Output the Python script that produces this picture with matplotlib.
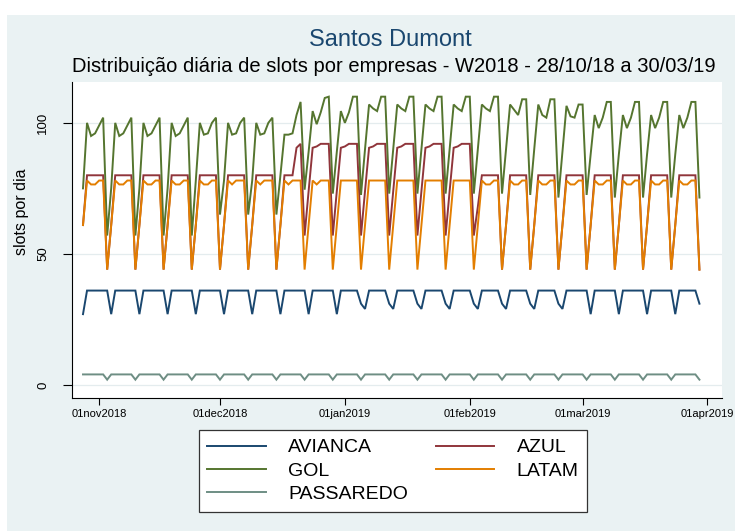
import matplotlib
matplotlib.use("Agg")
import matplotlib.pyplot as plt
import matplotlib.dates as mdates
from matplotlib.patches import Rectangle
import numpy as np
import pandas as pd

plt.rcParams['font.family'] = ['Liberation Sans', 'DejaVu Sans']

# daily slots, 28/10/18 (Sunday) to 30/03/19 (Saturday) = 22 weeks
# each weekly pattern below is Sunday..Saturday
start_date = "2018-10-28"
end_date = "2019-03-30"

# AVIANCA
av_plain = [27, 36, 36, 36, 36, 36, 36]
av_pre = [27, 36, 36, 36, 36, 36, 31]
av_kink = [29, 36, 36, 36, 36, 36, 31]
av_post = [29, 36, 36, 36, 36, 36, 36]
av_last = [27, 36, 36, 36, 36, 36, 31]
avianca_weeks = [av_plain] * 9 + [av_pre] + [av_kink] * 7 + [av_post] + [av_plain] * 3 + [av_last]

# AZUL
az_normal = [61, 80, 80, 80, 80, 80, 44]
az_up = [61, 80, 80, 80, 90.5, 92, 57]
az_high = [74, 90.5, 91, 92, 92, 92, 57]
az_down = [68, 80, 80, 80, 80, 80, 44]
azul_weeks = [az_normal] * 7 + [az_up] + [az_high] * 6 + [az_down] + [az_normal] * 7

# GOL
gol_a = [75, 100, 95, 96, 99, 102, 57]
gol_b = [78, 100, 95.5, 96, 100, 102, 65]
gol_c = [80, 95.5, 95.5, 96, 103, 108, 74.5]
gol_d = [89, 104.5, 99.5, 104, 109.5, 110, 73]
gol_e = [89, 104.5, 100, 104, 110, 110, 72.5]
gol_f = [90, 107, 105.5, 104.5, 110, 110, 73]
gol_g = [90, 107, 105, 103, 109, 109, 72.5]
gol_h = [90, 107, 103, 102, 109, 109, 71.5]
gol_i = [89, 106.5, 102.5, 102, 107, 107, 72.5]
gol_j = [88, 103, 98, 102, 108, 108, 71.5]
gol_weeks = ([gol_a] * 4 + [gol_b] * 3 + [gol_c] + [gol_d] + [gol_e] + [gol_f] * 5
             + [gol_g] + [gol_h] + [gol_i] + [gol_j] * 4)

# LATAM
lt_two_dip = [61, 78, 76.5, 76.5, 78, 78, 44]
lt_one_dip = [61, 78, 76.5, 78, 78, 78, 44]
lt_flat = [61, 78, 78, 78, 78, 78, 44]
latam_weeks = [lt_two_dip] * 5 + [lt_one_dip] * 4 + [lt_flat] * 5 + [lt_two_dip] * 8

# PASSAREDO
ps_week = [4, 4, 4, 4, 4, 4, 2]
passaredo_weeks = [ps_week] * 22

companies = ["AVIANCA", "AZUL", "GOL", "LATAM", "PASSAREDO"]
colors = ["#1A476F", "#90353B", "#55752F", "#E37E00", "#6E8E84"]

dates = pd.date_range(start_date, end_date, freq="D")
series = {
    "AVIANCA": np.concatenate(avianca_weeks),
    "AZUL": np.concatenate(azul_weeks),
    "GOL": np.concatenate(gol_weeks),
    "LATAM": np.concatenate(latam_weeks),
    "PASSAREDO": np.concatenate(passaredo_weeks),
}

W, H = 735, 531
fig = plt.figure(figsize=(W / 100, H / 100), dpi=100)
fig.patch.set_facecolor("white")
# stata-like graph region
fig.patches.append(Rectangle((7 / W, 0), 1, 1 - 15 / H, transform=fig.transFigure,
                             facecolor="#EAF2F3", edgecolor="none", zorder=-10))

ax = fig.add_axes([72 / W, 1 - 398 / H, 650 / W, 316 / H])
ax.set_facecolor("white")

handles = {}
for name, col in zip(companies, colors):
    (ln,) = ax.plot(dates, series[name], color=col, lw=1.4, solid_joinstyle="miter")
    handles[name] = ln

d0 = pd.Timestamp(start_date)
ax.set_xlim(d0 - pd.Timedelta(days=2.73), d0 + pd.Timedelta(days=158.6))
ax.set_ylim(-5.0, 115.6)

ax.set_yticks([0, 50, 100])
ax.set_yticklabels(["0", "50", "100"], rotation=90, va="center", fontsize=9.5)
ax.set_xticks(pd.to_datetime(["2018-11-01", "2018-12-01", "2019-01-01",
                              "2019-02-01", "2019-03-01", "2019-04-01"]))
ax.xaxis.set_major_formatter(plt.FuncFormatter(
    lambda v, p: mdates.num2date(v).strftime("%d%b%Y").lower()))
ax.tick_params(axis="x", labelsize=8, length=5, width=0.8, pad=3)
ax.tick_params(axis="y", length=6.5, width=0.8, pad=10)
ax.grid(axis="y", color="#E4ECEE", lw=0.9)
ax.set_axisbelow(True)
for s in ["top", "right"]:
    ax.spines[s].set_visible(False)
for s in ["left", "bottom"]:
    ax.spines[s].set_linewidth(0.8)
fig.text(22 / W, 1 - 212 / H, "slots por dia", rotation=90, ha="center", va="center",
         fontsize=11.5)

fig.text(390 / W, 1 - 40 / H, "Santos Dumont", ha="center", va="center",
         fontsize=17, color="#1A476F")
fig.text(394 / W, 1 - 67 / H,
         "Distribuição diária de slots por empresas - W2018 - 28/10/18 a 30/03/19",
         ha="center", va="center", fontsize=14.5, color="black")

order = ["AVIANCA", "GOL", "PASSAREDO", "AZUL", "LATAM"]
leg = fig.legend([handles[n] for n in order], order, ncol=2,
                 loc="center", bbox_to_anchor=(393 / W, 1 - 471 / H),
                 fontsize=14, handlelength=3.0, handletextpad=1.15,
                 columnspacing=1.45, labelspacing=0.3, borderpad=0.45,
                 fancybox=False, framealpha=1, edgecolor="#333333")
leg.get_frame().set_linewidth(0.9)

fig.savefig("out.png", dpi=100)
